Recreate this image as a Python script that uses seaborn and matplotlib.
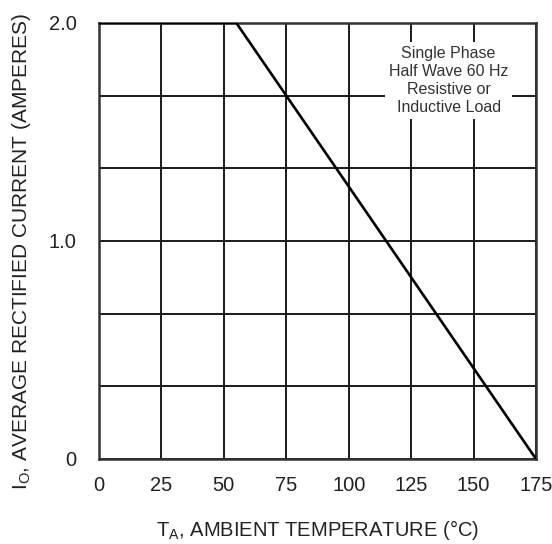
import matplotlib
matplotlib.use("Agg")
import matplotlib.pyplot as plt
import seaborn as sns
import pandas as pd

# Data
temperature = [0, 55, 175]
current = [2.0, 2.0, 0.0]

x_ticks = [0, 25, 50, 75, 100, 125, 150, 175]
x_tick_labels = ["0", "25", "50", "75", "100", "125", "150", "175"]
y_ticks = [0, 1 / 3, 2 / 3, 1.0, 4 / 3, 5 / 3, 2.0]
y_tick_labels = ["0", "", "", "1.0", "", "", "2.0"]

note_text = "Single Phase\nHalf Wave 60 Hz\nResistive or\nInductive Load"

sns.set_style("white")
plt.rcParams["font.family"] = ["Liberation Sans", "DejaVu Sans"]

df = pd.DataFrame({"T": temperature, "I": current})

fig = plt.figure(figsize=(5.52, 5.44), dpi=100)
ax = fig.add_axes([0.1793, 0.1563, 0.7917, 0.8015])

ax.set_xlim(0, 175)
ax.set_ylim(0, 2.0)
ax.set_xticks(x_ticks)
ax.set_xticklabels(x_tick_labels)
ax.set_yticks(y_ticks)
ax.set_yticklabels(y_tick_labels)
ax.grid(True, color="#1a1a1a", linewidth=1.4)
ax.set_axisbelow(True)
ax.tick_params(axis="x", length=0, pad=12, labelsize=14.5, colors="#222222")
ax.tick_params(axis="y", length=0, pad=16, labelsize=14.5, colors="#222222")

sns.lineplot(data=df, x="T", y="I", ax=ax, color="black", linewidth=1.9, zorder=3)

for s in ax.spines.values():
    s.set_color("#333333")
    s.set_linewidth(1.8)

ax.set_xlabel(r"T$_\mathregular{A}$, AMBIENT TEMPERATURE (°C)", fontsize=14.5, color="#222222")
ax.set_ylabel(r"I$_\mathregular{O}$, AVERAGE RECTIFIED CURRENT (AMPERES)", fontsize=15, color="#222222")
ax.xaxis.set_label_coords(0.5, -0.135)
ax.yaxis.set_label_coords(-0.15, 0.475)

ax.text(140, 1.736, note_text,
        ha="center", va="center", fontsize=11.5, color="#333333", linespacing=1.25,
        zorder=4, bbox=dict(facecolor="white", edgecolor="none", pad=3))

fig.savefig("out.png", dpi=100)
